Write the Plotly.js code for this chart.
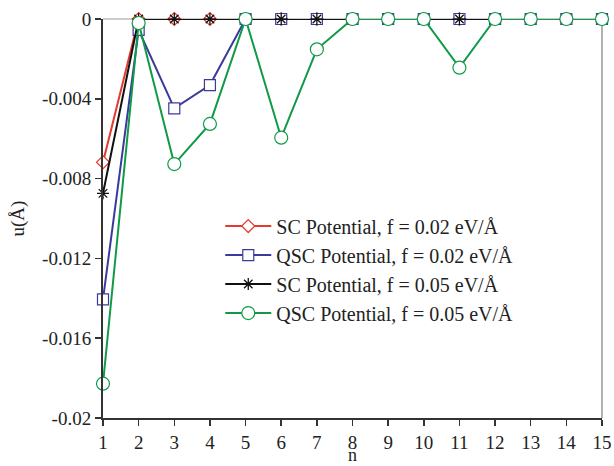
<!DOCTYPE html>
<html>
<head>
<meta charset="utf-8">
<script src="https://cdn.plot.ly/plotly-3.0.1.min.js"></script>
<style>html,body{margin:0;padding:0;background:#fff;}#chart{width:614px;height:466px;}</style>
</head>
<body>
<div id="chart"></div>
<script>
const n = [1,2,3,4,5,6,7,8,9,10,11,12,13,14,15];
const scF002 = [-0.00718,0,0,0,0,0,0,0,0,0,0,0,0,0,0];
const qscF002 = [-0.01405,-0.00055,-0.00448,-0.00331,0,0,0,0,0,0,0,0,0,0,0];
const scF005 = [-0.00874,0,0,0,0,0,0,0,0,0,0,0,0,0,0];
const qscF005 = [-0.01828,-0.0002,-0.00727,-0.00526,0,-0.00595,-0.00152,0,0,0,-0.00244,0,0,0,0];
const seriesNames = ["SC Potential, f = 0.02 eV/Å","QSC Potential, f = 0.02 eV/Å","SC Potential, f = 0.05 eV/Å","QSC Potential, f = 0.05 eV/Å"];
const yTickVals = [0,-0.004,-0.008,-0.012,-0.016,-0.02];
const yTickText = ["0","-0.004","-0.008","-0.012","-0.016","-0.02"];
const xTickVals = n;
const xTitle = 'n';
const yTitle = 'u(Å)';

const FONT = "'Liberation Serif', 'Times New Roman', serif";

function tr(y, name, color, symbol, size, fill) {
  return {
    x: n, y: y, name: name, type: 'scatter', mode: 'lines+markers',
    line: {color: color, width: 2},
    marker: {symbol: symbol, size: size, color: fill, line: {color: color, width: 1.2}},
    cliponaxis: false
  };
}
const data = [
  tr(scF002, seriesNames[0], '#e53a2f', 'diamond', 10, 'white'),
  tr(qscF002, seriesNames[1], '#3b3a9c', 'square', 11, 'white'),
  tr(scF005, seriesNames[2], '#111111', 'asterisk-open', 10, '#111111'),
  tr(qscF005, seriesNames[3], '#109a48', 'circle', 13, 'white')
];
data[2].marker = {symbol: 'asterisk-open', size: 10, color: '#111111', line: {color: '#111111', width: 1.3}};

const layout = {
  width: 614, height: 466,
  margin: {l: 103, r: 12, t: 19, b: 48},
  paper_bgcolor: 'white', plot_bgcolor: 'white',
  font: {family: FONT, size: 19, color: '#222'},
  showlegend: true,
  legend: {x: 0.235, y: 0.53, xanchor: 'left', yanchor: 'top', bgcolor: 'rgba(0,0,0,0)',
           font: {family: FONT, size: 20, color: '#222'}, tracegroupgap: 0, itemwidth: 46},
  xaxis: {
    range: [1, 15], tickmode: 'array', tickvals: xTickVals, ticktext: xTickVals.map(String),
    showgrid: false, zeroline: false, showline: true, linecolor: '#333', linewidth: 2,
    ticks: 'outside', ticklen: 6, tickwidth: 1.5, tickcolor: '#333',
    tickfont: {family: FONT, size: 19, color: '#222'}, automargin: false
  },
  yaxis: {
    range: [-0.02, 0], tickmode: 'array', tickvals: yTickVals, ticktext: yTickText,
    showgrid: false, zeroline: false, showline: true, linecolor: '#333', linewidth: 2,
    ticks: 'outside', ticklen: 6, tickwidth: 1.5, tickcolor: '#333',
    tickfont: {family: FONT, size: 19, color: '#222'}, automargin: false,
    title: {text: yTitle, font: {family: FONT, size: 19, color: '#222'}, standoff: 12}
  },
  annotations: [
    {text: xTitle, xref: 'paper', yref: 'paper', x: 0.5, y: 0, yshift: -48, xanchor: 'center', yanchor: 'bottom',
     showarrow: false, borderpad: 0, font: {family: FONT, size: 18, color: '#222'}}
  ],
  shapes: [
    {type: 'line', xref: 'paper', yref: 'paper', x0: 1, x1: 1, y0: 0, y1: 1, line: {color: '#999', width: 1.5}, layer: 'below'},
    {type: 'line', xref: 'paper', yref: 'paper', x0: 0, x1: 1, y0: 1, y1: 1, line: {color: '#999', width: 1}, layer: 'below'}
  ]
};
Plotly.newPlot('chart', data, layout, {displayModeBar: false, staticPlot: true});
</script>
</body>
</html>
